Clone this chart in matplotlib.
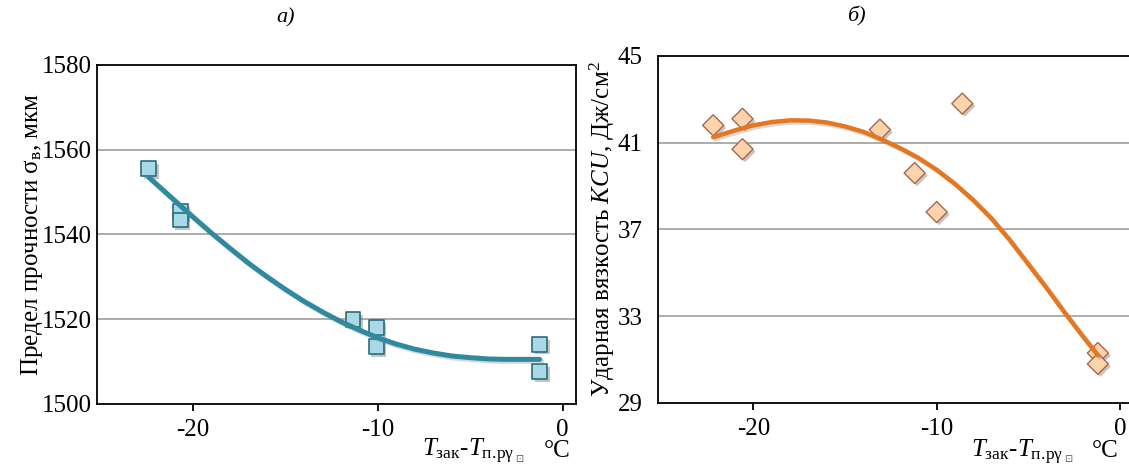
"""Two-panel figure: strength and impact toughness vs quench temperature offset."""

import matplotlib

matplotlib.use("Agg")
import matplotlib.pyplot as plt  # noqa: E402
import matplotlib.patheffects as pe  # noqa: E402

plt.rcParams.update(
    {
        "font.family": ["Liberation Serif", "DejaVu Serif"],
        "mathtext.fontset": "custom",
        "mathtext.rm": "Liberation Serif",
        "mathtext.it": "Liberation Serif:italic",
        "axes.unicode_minus": False,
        "font.size": 18,
    }
)

# panel a) — tensile strength, measured points
a_x = [-22.4, -20.7, -20.7, -11.35, -10.1, -10.1, -1.25, -1.25]
a_y = [1555.5, 1545.3, 1543.4, 1519.9, 1518.0, 1513.5, 1514.0, 1507.6]
# trend line
a_trend_x = [-22.4, -21, -20, -19, -18, -17, -16, -15, -14, -13, -12, -11,
             -10, -9, -8, -7, -6, -5, -4, -3, -2, -1.25]
a_trend_y = [1553.5, 1548.0, 1544.1, 1540.3, 1536.7, 1533.2, 1530.0, 1527.0,
             1524.2, 1521.7, 1519.4, 1517.4, 1515.6, 1514.1, 1512.9, 1512.0,
             1511.3, 1510.9, 1510.6, 1510.5, 1510.5, 1510.5]
a_yticks = [1500, 1520, 1540, 1560, 1580]

# panel б) — impact toughness KCU
b_x = [-22.2, -20.6, -20.6, -13.1, -11.2, -10.0, -8.6, -1.2, -1.2]
b_y = [41.8, 42.1, 40.7, 41.6, 39.6, 37.8, 42.8, 31.3, 30.8]
b_trend_x = [-22.2, -21, -20, -19, -18, -17, -16, -15, -14, -13, -12, -11,
             -10, -9, -8, -7, -6, -5, -4, -3, -2, -1.2]
b_trend_y = [41.25, 41.57, 41.8, 41.95, 42.03, 42.02, 41.93, 41.75, 41.5,
             41.15, 40.75, 40.3, 39.75, 39.1, 38.35, 37.5, 36.5, 35.4, 34.3,
             33.15, 32.05, 31.2]
b_yticks = [29, 33, 37, 41, 45]

xticks = [-20, -10, 0]
xlabel = r"$T_{\mathrm{зак}}$-$T_{\mathrm{п.\!рγ}}$"

fig = plt.figure(figsize=(11.29, 4.74), dpi=100)
ax_a = fig.add_axes([0.0859, 0.148, 0.424, 0.715])
ax_b = fig.add_axes([0.583, 0.150, 0.417, 0.732])

line_shadow = [pe.SimpleLineShadow(offset=(1.5, -1.5), shadow_color="#7f7f7f", alpha=0.3), pe.Normal()]
mark_shadow = [pe.SimplePatchShadow(offset=(1.8, -1.8), shadow_rgbFace="#6f6f6f", alpha=0.4), pe.Normal()]


def x_label(ax, x_text, x_deg, y):
    t = ax.text(x_text, y, xlabel, fontsize=18, ha="left", va="baseline")
    ax.annotate("⊡", xy=(1, 0), xycoords=t, xytext=(0.5, 2), textcoords="offset points",
                fontsize=7, family="DejaVu Sans", color="#555555", ha="left", va="bottom")
    ax.text(x_deg, y, "°C", fontsize=18, ha="center", va="baseline")


# ---- panel a)
ax = ax_a
ax.set_xlim(-25.2, 0.7)
ax.set_ylim(1500, 1580)
ax.set_yticks(a_yticks)
ax.set_xticks(xticks)
for v in a_yticks[1:-1]:
    ax.axhline(v, color="#a6a6a6", lw=1.3, zorder=1)
ax.scatter(a_x, a_y, marker="s", s=115, facecolor="#a9d9e6", edgecolor="#2d6c7c",
           linewidth=1.2, zorder=3, path_effects=mark_shadow)
ax.plot(a_trend_x, a_trend_y, color="#2f8aa0", lw=3.6, zorder=4,
        solid_capstyle="round", path_effects=line_shadow)
ax.set_ylabel("Предел прочности σ$_{\\mathrm{в}}$, мкм", fontsize=18, labelpad=-2)
x_label(ax, -7.6, -0.3, 1487.5)
ax.text(-15.0, 1591, "а)", fontsize=16, style="italic", ha="center", va="center")
for s in ax.spines.values():
    s.set_linewidth(1.3)
ax.tick_params(axis="y", length=0, pad=3.5)
ax.tick_params(axis="x", direction="out", length=5, width=1.3, pad=6)

# ---- panel б)
ax = ax_b
ax.set_xlim(-25.2, 0.5)
ax.set_ylim(29, 45)
ax.set_yticks(b_yticks)
ax.set_xticks(xticks)
for v in b_yticks[1:-1]:
    ax.axhline(v, color="#a6a6a6", lw=1.3, zorder=1)
ax.scatter(b_x, b_y, marker="D", s=115, facecolor="#fbd3ad", edgecolor="#a8684a",
           linewidth=1.0, zorder=3, path_effects=mark_shadow)
ax.plot(b_trend_x, b_trend_y, color="#e4771f", lw=3.2, zorder=4,
        solid_capstyle="round", path_effects=line_shadow)
ax.set_ylabel("Ударная вязкость $\\mathit{KCU}$, Дж/см$^2$", fontsize=18, labelpad=1)
x_label(ax, -8.1, -0.8, 26.5)
ax.text(-14.4, 46.8, "б)", fontsize=16, style="italic", ha="center", va="center")
for s in ax.spines.values():
    s.set_linewidth(1.3)
ax.spines["right"].set_visible(False)
ax.tick_params(axis="y", length=0, pad=11)
ax.tick_params(axis="x", direction="out", length=5, width=1.3, pad=6)

fig.savefig("out.png", dpi=100)
